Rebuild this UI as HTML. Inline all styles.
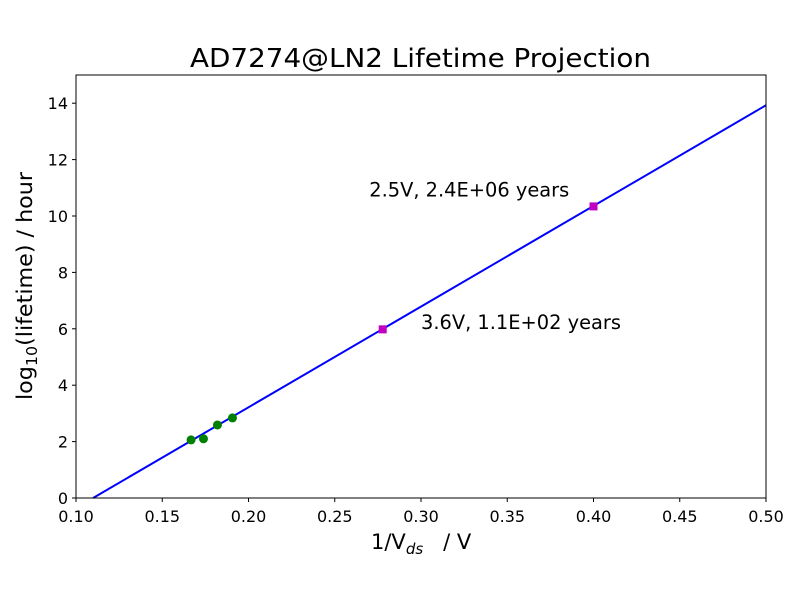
<!DOCTYPE html>
<html><head><meta charset="utf-8"><style>body{margin:0;background:#fff}svg text{font-family:"DejaVu Sans","Liberation Sans",sans-serif}</style></head>
<body>
<svg id="chart" width="800" height="600" xmlns="http://www.w3.org/2000/svg">
<rect width="800" height="600" fill="#fff"/>
<text x="190" y="67" font-size="26" textLength="461" lengthAdjust="spacingAndGlyphs">AD7274@LN2 Lifetime Projection</text>
<g id="plot"></g>
<rect x="76" y="75" width="690" height="423" fill="none" stroke="#000" stroke-width="1"/>
<text x="371" y="549" font-size="21" xml:space="preserve">1/V<tspan font-size="15" font-style="italic" dy="5">ds</tspan><tspan dy="-5">   / V</tspan></text>
<text transform="translate(32,286) rotate(-90)" font-size="21" text-anchor="middle" textLength="228" lengthAdjust="spacingAndGlyphs">log<tspan font-size="15" dy="5">10</tspan><tspan dy="-5">(lifetime) / hour</tspan></text>
</svg>
<script>
const xTicks=[0.10,0.15,0.20,0.25,0.30,0.35,0.40,0.45,0.50];
const yTicks=[0,2,4,6,8,10,12,14];
const measX=[0.1667,0.1739,0.1820,0.1907];
const measY=[2.06,2.10,2.59,2.84];
const projX=[0.2778,0.4];
const projY=[5.98,10.34];
const projLabels=["3.6V, 1.1E+02 years","2.5V, 2.4E+06 years"];
const labelX=[0.30,0.27];
const labelY=[6.1,10.8];
const fitSlope=35.7, fitX0=0.1099;
const X=v=>76+(v-0.1)/0.4*690, Y=v=>498-v/15*423;
const g=document.getElementById('plot'), NS='http://www.w3.org/2000/svg';
function mk(t,a,txt){const e=document.createElementNS(NS,t);for(const k in a)e.setAttribute(k,a[k]);if(txt!=null)e.textContent=txt;g.appendChild(e);return e;}
xTicks.forEach(v=>{
 let e=mk('line',{x1:X(v),x2:X(v),y1:498,y2:502,stroke:'#000'});
 
 
 e=mk('text',{x:X(v),y:522,'font-size':16,'text-anchor':'middle'},v.toFixed(2));
 
 
});
yTicks.forEach(v=>{
 let e=mk('line',{x1:72,x2:76,y1:Y(v),y2:Y(v),stroke:'#000'});
 
 
 e=mk('text',{x:68,y:Y(v)+6,'font-size':16,'text-anchor':'end'},String(v));
 
 
});
const xs=Math.max(0.1,fitX0), xe=0.5;
let fl=mk('line',{x1:X(xs),y1:Y(fitSlope*(xs-fitX0)),x2:X(xe),y2:Y(fitSlope*(xe-fitX0)),stroke:'#0000ff','stroke-width':2});


measX.forEach((x,i)=>{
 const c=mk('circle',{cx:X(x),cy:Y(measY[i]),r:4.5,fill:'#008000'});
 
 
});
projX.forEach((x,i)=>{
 const r=mk('rect',{x:X(x)-4,y:Y(projY[i])-4,width:8,height:8,fill:'#c000c0'});
 
 
 const t=mk('text',{x:X(labelX[i]),y:Y(labelY[i])+3,'font-size':19.4},projLabels[i]);
 
 
});
</script>
</body></html>
